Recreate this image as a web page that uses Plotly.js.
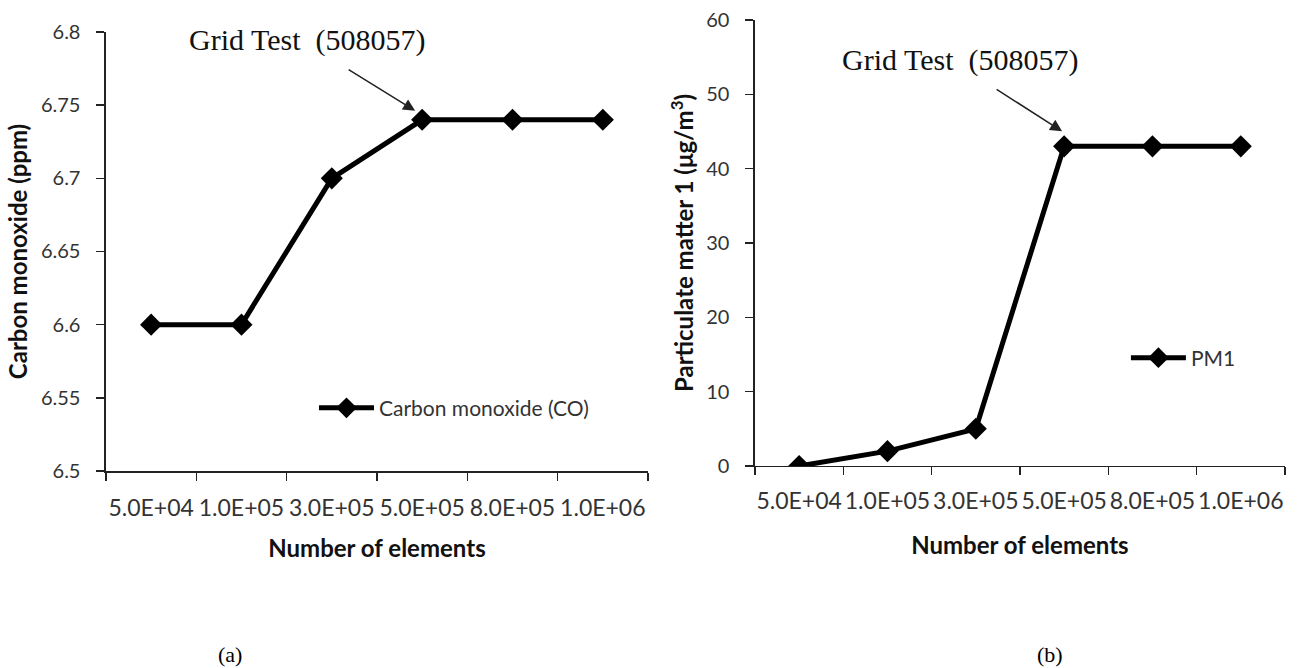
<!DOCTYPE html>
<html>
<head>
<meta charset="utf-8">
<script src="https://cdn.plot.ly/plotly-3.0.1.min.js"></script>
<style>
  html, body { margin: 0; padding: 0; background: #fff; }
  #chart { width: 1297px; height: 668px; }
</style>
</head>
<body>
<div id="chart"></div>
<script>
// ---- data ----
const categories = ['5.0E+04', '1.0E+05', '3.0E+05', '5.0E+05', '8.0E+05', '1.0E+06'];
const coValues = [6.6, 6.6, 6.7, 6.74, 6.74, 6.74];
const pm1Values = [0, 2, 5, 43, 43, 43];
const coTickVals = [6.5, 6.55, 6.6, 6.65, 6.7, 6.75, 6.8];
const coTickText = ['6.5', '6.55', '6.6', '6.65', '6.7', '6.75', '6.8'];
const pmTickVals = [0, 10, 20, 30, 40, 50, 60];
const gridTestLabel = 'Grid Test  (508057)';
const gridTestIndex = categories.indexOf('5.0E+05');
const gridTestCO = 6.74;
const gridTestPM = 43;

// category positions (index of each category on the axis)
const catPos = categories.map((c, i) => i);

const sans = 'Lato, "Open Sans", sans-serif';
const serif = '"Liberation Serif", "DejaVu Serif", serif';
const yTickFont = { family: sans, size: 20, color: '#333' };
const xTickFont = { family: sans, size: 23, color: '#333' };
const titleFont = { family: sans, size: 24, color: '#111', weight: 'bold' };

const lineStyle = { color: '#000', width: 5 };
const markerStyle = { symbol: 'diamond', size: 17, color: '#000' };

const traces = [
  {
    type: 'scatter', mode: 'lines+markers',
    x: catPos, y: coValues, name: 'Carbon monoxide (CO)',
    line: lineStyle, marker: markerStyle,
    xaxis: 'x', yaxis: 'y', legend: 'legend'
  },
  {
    type: 'scatter', mode: 'lines+markers',
    x: catPos, y: pm1Values, name: 'PM1',
    line: lineStyle, marker: markerStyle,
    xaxis: 'x2', yaxis: 'y2', legend: 'legend2'
  }
];

function xAxis(domain, anchor, labelStandoff, titleStandoff) {
  return {
    domain: domain, anchor: anchor, type: 'linear',
    range: [-0.5, categories.length - 0.5],
    tickmode: 'array', tickvals: catPos, ticktext: categories, ticks: '',
    tickangle: 0,
    minor: { tickmode: 'linear', tick0: -0.5, dtick: 1, ticks: 'outside',
             ticklen: 8, tickwidth: 1.5, tickcolor: '#222', showgrid: false },
    showline: true, linecolor: '#222', linewidth: 1.5,
    showgrid: false, zeroline: false,
    tickfont: xTickFont, ticklabelstandoff: labelStandoff,
    automargin: true, fixedrange: true,
    title: { text: 'Number of elements', font: titleFont, standoff: titleStandoff }
  };
}

const layout = {
  width: 1297, height: 668,
  margin: { l: 0, r: 0, t: 0, b: 0 },
  paper_bgcolor: '#fff', plot_bgcolor: '#fff',
  showlegend: true,
  xaxis: xAxis([0.0817, 0.4996], 'y', 16, 20),
  xaxis2: xAxis([0.5821, 0.9907], 'y2', 14, 24),
  yaxis: {
    domain: [0.2949, 0.9521], anchor: 'x',
    range: [6.5, 6.8], tickvals: coTickVals, ticktext: coTickText,
    ticks: 'outside', ticklen: 8, tickwidth: 1.5, tickcolor: '#222',
    showline: true, linecolor: '#222', linewidth: 1.5,
    showgrid: false, zeroline: false,
    tickfont: yTickFont, ticklabelstandoff: 12,
    automargin: false, fixedrange: true,
    title: { text: 'Carbon monoxide (ppm)', font: titleFont, standoff: 6 }
  },
  yaxis2: {
    domain: [0.3024, 0.9701], anchor: 'x2',
    range: [0, 60], tickvals: pmTickVals,
    ticks: 'outside', ticklen: 8, tickwidth: 1.5, tickcolor: '#222',
    showline: true, linecolor: '#222', linewidth: 1.5,
    showgrid: false, zeroline: false,
    tickfont: yTickFont, ticklabelstandoff: 12,
    automargin: false, fixedrange: true,
    title: { text: 'Particulate matter 1 (μg/m<sup>3</sup>)', font: titleFont, standoff: 6 }
  },
  legend: {
    x: 0.2421, y: 0.389, xanchor: 'left', yanchor: 'middle',
    bgcolor: 'rgba(0,0,0,0)', font: { family: sans, size: 21, color: '#333' },
    itemwidth: 55
  },
  legend2: {
    x: 0.8681, y: 0.464, xanchor: 'left', yanchor: 'middle',
    bgcolor: 'rgba(0,0,0,0)', font: { family: sans, size: 21, color: '#333' },
    itemwidth: 55
  },
  annotations: [
    { xref: 'paper', yref: 'paper', x: 0.2367, y: 0.940, text: gridTestLabel,
      showarrow: false, xanchor: 'center', yanchor: 'middle',
      font: { family: serif, size: 30, color: '#111' } },
    { xref: 'x', yref: 'y', x: gridTestIndex, y: gridTestCO, text: '',
      showarrow: true, xshift: -7, yshift: 9, ax: -68, ay: -42,
      arrowhead: 2, arrowsize: 1.6, arrowwidth: 1.5, arrowcolor: '#222' },
    { xref: 'paper', yref: 'paper', x: 0.7402, y: 0.910, text: gridTestLabel,
      showarrow: false, xanchor: 'center', yanchor: 'middle',
      font: { family: serif, size: 30, color: '#111' } },
    { xref: 'x2', yref: 'y2', x: gridTestIndex, y: gridTestPM, text: '',
      showarrow: true, xshift: -2, yshift: 15, ax: -67, ay: -43,
      arrowhead: 2, arrowsize: 1.6, arrowwidth: 1.5, arrowcolor: '#222' },
    { xref: 'paper', yref: 'paper', x: 0.1773, y: 0.0195, text: '(a)',
      showarrow: false, xanchor: 'center', yanchor: 'middle',
      font: { family: serif, size: 22, color: '#000' } },
    { xref: 'paper', yref: 'paper', x: 0.8096, y: 0.0195, text: '(b)',
      showarrow: false, xanchor: 'center', yanchor: 'middle',
      font: { family: serif, size: 22, color: '#000' } }
  ]
};

Plotly.newPlot('chart', traces, layout, { displayModeBar: false, staticPlot: true });
</script>
</body>
</html>
